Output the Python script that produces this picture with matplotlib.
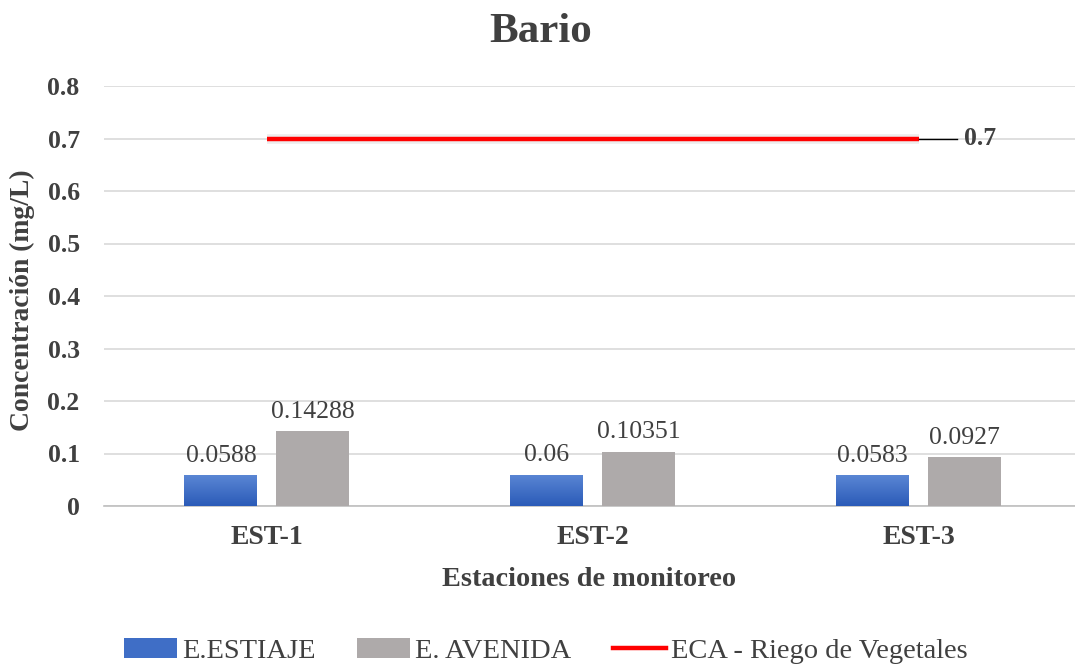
import matplotlib
matplotlib.use("Agg")
import matplotlib.pyplot as plt
import numpy as np
from matplotlib.patches import Patch
from matplotlib.lines import Line2D

plt.rcParams['font.family'] = ['Liberation Serif', 'DejaVu Serif']

# data
estaciones = ["EST-1", "EST-2", "EST-3"]
estiaje = [0.0588, 0.06, 0.0583]
avenida = [0.14288, 0.10351, 0.0927]
eca_valor = 0.7
etiq_estiaje = ["0.0588", "0.06", "0.0583"]
etiq_avenida = ["0.14288", "0.10351", "0.0927"]
y_ticks = [0, 0.1, 0.2, 0.3, 0.4, 0.5, 0.6, 0.7, 0.8]
y_labels = ["0", "0.1", "0.2", "0.3", "0.4", "0.5", "0.6", "0.7", "0.8"]

fig = plt.figure(figsize=(10.75, 6.66), dpi=100)
ax = fig.add_axes([104/1075, 1 - 506/666, 1 - 104/1075, (506 - 86)/666])

x = np.arange(len(estaciones))
w = 0.224
gap = 0.029

# gradient for the blue bars
grad = np.linspace(0, 1, 64).reshape(-1, 1)
cmap_azul = matplotlib.colors.LinearSegmentedColormap.from_list("az", ["#2b5bb8", "#5a86d4"])

for i in range(len(x)):
    x0 = x[i] - gap - w
    b = ax.bar(x0, estiaje[i], width=w, align="edge", color="#3f6ec6", zorder=2)
    img = ax.imshow(grad, extent=(x0, x0 + w, 0, estiaje[i]), origin="lower",
                    cmap=cmap_azul, aspect="auto", zorder=3)
    img.set_clip_path(b.patches[0])
    ax.bar(x[i] + gap, avenida[i], width=w, align="edge", color="#aeaaaa", zorder=3)

    ax.annotate(etiq_estiaje[i], (x0 + w/2, estiaje[i]), xytext=(0, 6),
                textcoords="offset points", ha="center", va="bottom", fontsize=18.5, color="#404040")
    ax.annotate(etiq_avenida[i], (x[i] + gap + w/2, avenida[i]), xytext=(0, 6),
                textcoords="offset points", ha="center", va="bottom", fontsize=18.5, color="#404040")

# ECA line
ax.plot([x[0], x[-1]], [eca_valor, eca_valor], color="#dddddd", lw=7, alpha=0.5, zorder=3,
        solid_capstyle="butt")
ax.plot([x[0], x[-1]], [eca_valor, eca_valor], color="#ff0000", lw=3.2, zorder=4,
        solid_capstyle="butt")
ax.plot([x[-1], x[-1] + 0.117], [eca_valor, eca_valor], color="black", lw=1, zorder=4)
ax.text(x[-1] + 0.14, eca_valor, "0.7", ha="left", va="center", fontsize=18.5,
        fontweight="bold", color="#404040", zorder=5)

ax.set_xlim(-0.5, 2.48)
ax.set_ylim(0, 0.8)
ax.set_yticks(y_ticks)
ax.set_yticklabels(y_labels)
ax.set_xticks(x)
ax.set_xticklabels(estaciones)
ax.yaxis.grid(True, color="#d9d9d9", lw=1.2, zorder=0)
ax.set_axisbelow(True)
for s in ["top", "right", "left"]:
    ax.spines[s].set_visible(False)
ax.spines["bottom"].set_color("#bfbfbf")
ax.spines["bottom"].set_linewidth(1.2)
ax.tick_params(axis="both", length=0, labelsize=18.5, labelcolor="#404040")
ax.tick_params(axis="x", pad=14, labelsize=20)
ax.tick_params(axis="y", pad=17.5)
for lab in ax.get_xticklabels() + ax.get_yticklabels():
    lab.set_fontweight("bold")

ax.set_xlabel("Estaciones de monitoreo", fontsize=20.3, fontweight="bold", color="#404040",
              labelpad=12)
fig.text(22/1075, 1 - 300/666, "Concentración (mg/L)", rotation=90, ha="center", va="center",
         fontsize=19.9, fontweight="bold", color="#404040")

fig.text(541/1075, 1 - 32/666, "Bario", ha="center", va="center", fontsize=31,
         fontweight="bold", color="#404040")

handles = [Patch(facecolor="#3f6ec6"), Patch(facecolor="#aeaaaa"),
           Line2D([], [], color="#ff0000", lw=3.2)]
fig.legend(handles, ["E.ESTIAJE", "E. AVENIDA", "ECA - Riego de Vegetales"],
           loc="center", bbox_to_anchor=(546/1075, 1 - 651/666), ncol=3, frameon=False,
           fontsize=20.5, handlelength=1.85, handleheight=0.7, handletextpad=0.2,
           columnspacing=1.45, labelcolor="#404040")

fig.savefig("out.png", dpi=100)
